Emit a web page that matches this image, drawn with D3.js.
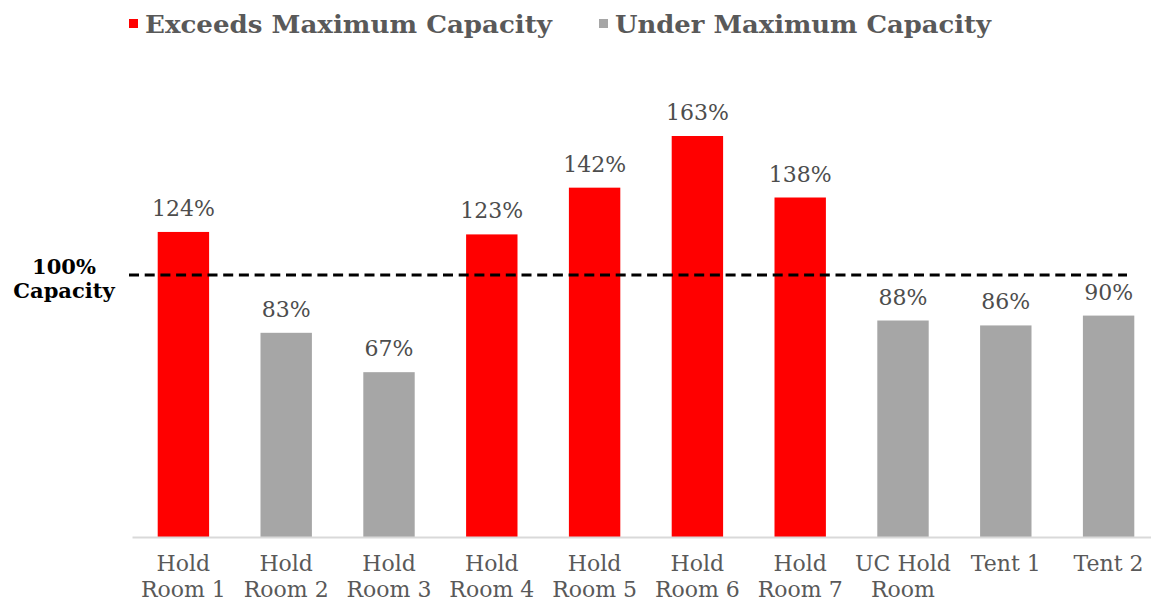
<!DOCTYPE html>
<html>
<head>
<meta charset="utf-8">
<script src="https://cdn.jsdelivr.net/npm/d3@7"></script>
<style>
  html, body { margin: 0; padding: 0; background: #fff; }
  svg { display: block; font-family: "DejaVu Serif", serif; }
</style>
</head>
<body>
<svg id="chart" width="1151" height="603"></svg>
<script>
// ---- data ----
const categories = ["Hold Room 1", "Hold Room 2", "Hold Room 3", "Hold Room 4", "Hold Room 5",
                    "Hold Room 6", "Hold Room 7", "UC Hold Room", "Tent 1", "Tent 2"];
const values = [124, 83, 67, 123, 142, 163, 138, 88, 86, 90];
const seriesNames = ["Exceeds Maximum Capacity", "Under Maximum Capacity"];
const seriesColors = ["#FF0000", "#A6A6A6"];
const capacityLineValue = 106.5;   // drawn position of the dashed "100% Capacity" marker
const capacityLabel = ["100%", "Capacity"];

// ---- chart ----
const svg = d3.select("#chart");
const textGrey = "#595959";

const x = d3.scaleBand().domain(categories).range([132, 1160])
  .paddingInner(0.5).paddingOuter(0.25);
const y = d3.scaleLinear().domain([0, 163]).range([537, 136]);

const colorOf = v => v > 100 ? seriesColors[0] : seriesColors[1];

// bars
svg.append("g").selectAll("rect").data(values).join("rect")
  .attr("x", (d, i) => x(categories[i]))
  .attr("width", x.bandwidth())
  .attr("y", d => y(d))
  .attr("height", d => y(0) - y(d))
  .attr("fill", d => colorOf(d));

// value labels
svg.append("g").selectAll("text").data(values).join("text")
  .attr("x", (d, i) => x(categories[i]) + x.bandwidth() / 2)
  .attr("y", d => y(d) - 16)
  .attr("text-anchor", "middle")
  .attr("font-size", 22)
  .attr("fill", "#4d4d4d")
  .text(d => d + "%");

// x axis
const xAxis = svg.append("g").attr("transform", `translate(0,${y(0)})`)
  .call(d3.axisBottom(x).tickSize(0).tickFormat(""));
xAxis.select(".domain").attr("stroke", "#D9D9D9").attr("stroke-width", 2);

// category labels with wrapping
const maxW = 100;
const catG = svg.append("g");
categories.forEach(c => {
  const t = catG.append("text")
    .attr("x", x(c) + x.bandwidth() / 2)
    .attr("y", 571)
    .attr("text-anchor", "middle")
    .attr("font-size", 22)
    .attr("fill", textGrey);
  const words = c.split(" ");
  let lines = [], line = [];
  const probe = catG.append("text").attr("font-size", 22);
  words.forEach(w => {
    const test = line.concat([w]).join(" ");
    probe.text(test);
    if (probe.node().getComputedTextLength() > maxW && line.length) {
      lines.push(line.join(" "));
      line = [w];
    } else line.push(w);
  });
  lines.push(line.join(" "));
  probe.remove();
  lines.forEach((l, i) => {
    t.append("tspan").attr("x", x(c) + x.bandwidth() / 2)
      .attr("dy", i === 0 ? 0 : 26).text(l);
  });
});

// dashed capacity line
svg.append("line")
  .attr("x1", 129).attr("x2", 1127)
  .attr("y1", y(capacityLineValue)).attr("y2", y(capacityLineValue))
  .attr("stroke", "#000").attr("stroke-width", 3)
  .attr("stroke-dasharray", "10,5.7");

svg.append("text")
  .attr("x", 64).attr("y", 274)
  .attr("text-anchor", "middle")
  .attr("font-size", 21).attr("font-weight", "bold").attr("fill", "#000")
  .selectAll("tspan").data(capacityLabel).join("tspan")
  .attr("x", 64).attr("dy", (d, i) => i === 0 ? 0 : 24)
  .text(d => d);

// legend
const legendPos = [{sx: 129, tx: 145, w: 407}, {sx: 599, tx: 615, w: 376}];
const lg = svg.append("g");
seriesNames.forEach((n, i) => {
  lg.append("rect").attr("x", legendPos[i].sx).attr("y", 19)
    .attr("width", 9).attr("height", 9).attr("fill", seriesColors[i]);
  lg.append("text").attr("x", legendPos[i].tx).attr("y", 33)
    .attr("font-size", 24).attr("font-weight", "bold").attr("fill", textGrey)
    .attr("textLength", legendPos[i].w).attr("lengthAdjust", "spacingAndGlyphs")
    .text(n);
});
</script>
</body>
</html>
